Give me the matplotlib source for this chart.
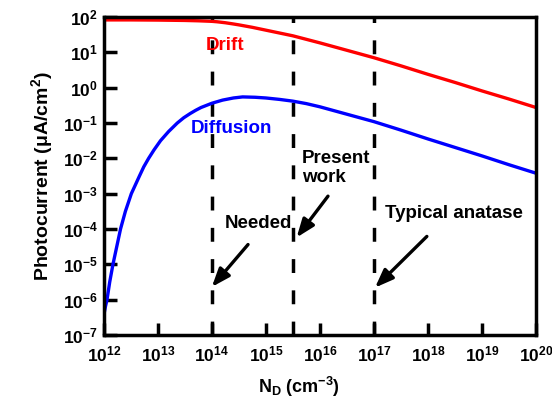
import matplotlib
matplotlib.use("Agg")
import matplotlib.pyplot as plt
import numpy as np
from matplotlib.ticker import FixedLocator, FuncFormatter, NullLocator

plt.rcParams["font.family"] = ["Liberation Sans", "DejaVu Sans"]
plt.rcParams["font.weight"] = "bold"
plt.rcParams["mathtext.fontset"] = "custom"
plt.rcParams["mathtext.rm"] = "Liberation Sans:weight=bold"
plt.rcParams["mathtext.bf"] = "Liberation Sans:weight=bold"
plt.rcParams["mathtext.it"] = "Liberation Sans:weight=bold"
plt.rcParams["mathtext.default"] = "bf"

# log10 of doping density and photocurrent
drift_logx = [12.0, 12.5, 13.0, 13.5, 13.75, 14.0, 14.1, 14.25, 14.4, 14.5, 14.75, 15.0,
              15.25, 15.5, 15.75, 16.0, 16.5, 17.0, 17.5, 18.0, 18.5, 19.0, 19.5, 20.0]
drift_logy = [1.92, 1.92, 1.915, 1.905, 1.895, 1.88, 1.867, 1.84, 1.805, 1.78, 1.71, 1.63,
              1.55, 1.47, 1.37, 1.27, 1.06, 0.85, 0.62, 0.38, 0.15, -0.09, -0.32, -0.56]

diff_logx = [12.0, 12.03, 12.06, 12.11, 12.17, 12.24, 12.31, 12.40, 12.51, 12.66, 12.74,
             12.83, 12.93, 13.05, 13.2, 13.36, 13.48, 13.6, 13.7, 13.8, 13.9, 14.0, 14.2,
             14.4, 14.57, 14.8, 15.0, 15.25, 15.5, 15.75, 16.0, 16.5, 17.0, 17.5, 18.0,
             18.5, 19.0, 19.5, 20.0]
diff_logy = [-6.45, -6.2, -6.0, -5.5, -5.0, -4.5, -4.0, -3.5, -3.0, -2.5, -2.24,
             -2.0, -1.76, -1.5, -1.24, -1.0, -0.85, -0.73, -0.64, -0.56, -0.5, -0.44, -0.35,
             -0.29, -0.26, -0.27, -0.29, -0.33, -0.38, -0.45, -0.54, -0.75, -0.96, -1.2, -1.45,
             -1.69, -1.93, -2.18, -2.42]

marker_lines = [1e14, 10 ** 15.5, 1e17]
x_ticks = [10.0 ** k for k in range(12, 21)]
y_ticks = [10.0 ** k for k in range(-7, 3)]

fig = plt.figure(figsize=(5.52, 4.07), dpi=100)
ax = fig.add_axes([0.188, 0.177, 0.783, 0.781])

ax.plot(10 ** np.array(drift_logx), 10 ** np.array(drift_logy), color="#ff0000", lw=2.4)
ax.plot(10 ** np.array(diff_logx), 10 ** np.array(diff_logy), color="#0000ff", lw=2.4)

for xv in marker_lines:
    ax.axvline(xv, color="black", lw=2.5, dashes=(4, 5), zorder=1)

ax.set_xscale("log")
ax.set_yscale("log")
ax.set_xlim(1e12, 1e20)
ax.set_ylim(1e-7, 1e2)

ax.xaxis.set_major_locator(FixedLocator(x_ticks))
ax.yaxis.set_major_locator(FixedLocator(y_ticks))
ax.xaxis.set_minor_locator(NullLocator())
ax.yaxis.set_minor_locator(NullLocator())
fmt = FuncFormatter(lambda v, p: r"$\mathbf{10^{%d}}$" % round(np.log10(v)))
ax.xaxis.set_major_formatter(fmt)
ax.yaxis.set_major_formatter(fmt)
ax.tick_params(direction="in", length=9, width=2.5, labelsize=12.5, pad=7)
ax.tick_params(axis="y", pad=4)
for s in ax.spines.values():
    s.set_linewidth(2.5)

ax.set_xlabel(r"N$_\mathbf{D}$ (cm$^\mathbf{-3}$)", fontsize=13, fontweight="bold", labelpad=8)
ax.xaxis.set_label_coords(0.451, -0.125)
ax.set_ylabel(r"Photocurrent ($\mathbf{\mu}$A/cm$^\mathbf{2}$)", fontsize=14, fontweight="bold", labelpad=6)

label_size = 13.5
ax.text(10 ** 14.24, 10 ** 1.2, "Drift", color="#ff0000", fontsize=label_size, fontweight="bold",
        ha="center", va="center")
ax.text(10 ** 14.37, 10 ** -1.16, "Diffusion", color="#0000ff", fontsize=label_size,
        fontweight="bold", ha="center", va="center")
ax.text(10 ** 15.67, 10 ** -2.27, "Present\nwork", fontsize=label_size, fontweight="bold",
        ha="left", va="center", linespacing=1.15)
ax.text(10 ** 14.87, 10 ** -3.84, "Needed", fontsize=label_size, fontweight="bold",
        ha="center", va="center")
ax.text(10 ** 17.2, 10 ** -3.56, "Typical anatase", fontsize=label_size, fontweight="bold",
        ha="left", va="center")

arrow_kw = dict(arrowstyle="-|>,head_length=1.1,head_width=0.42", color="black", lw=2.4,
                shrinkA=0, shrinkB=0)
ax.annotate("", xy=(10 ** 14.0, 10 ** -5.64), xytext=(10 ** 14.67, 10 ** -4.44), arrowprops=arrow_kw)
ax.annotate("", xy=(10 ** 15.57, 10 ** -4.24), xytext=(10 ** 16.15, 10 ** -3.07), arrowprops=arrow_kw)
ax.annotate("", xy=(10 ** 17.02, 10 ** -5.66), xytext=(10 ** 17.98, 10 ** -4.21), arrowprops=arrow_kw)

fig.savefig("out.png", dpi=100)
